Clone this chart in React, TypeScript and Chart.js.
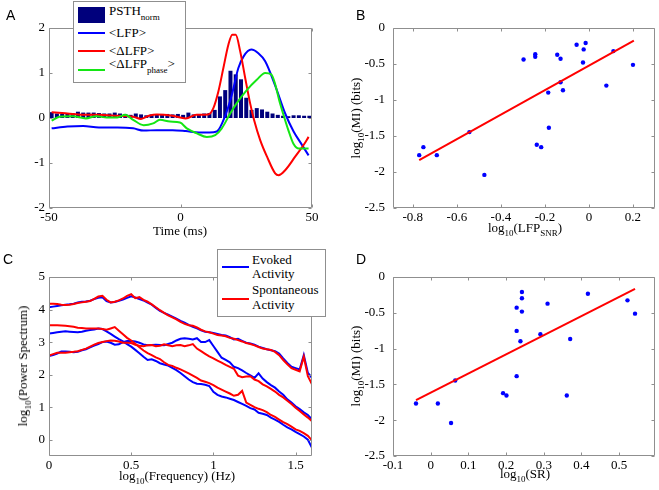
import React, { useEffect, useRef } from 'react';
import { Chart, registerables } from 'chart.js';

Chart.register(...registerables);

// ---------------- Panel A data ----------------
const PSTH_T = [-49, -47, -45, -43, -41, -39, -37, -35, -33, -31, -29, -27, -25, -23, -21, -19, -17, -15, -13, -11,
  -9, -7, -5, -3, -1, 1, 3, 5, 7, 9, 11, 13, 15, 17, 19, 21, 23, 25, 27, 29, 31, 33, 35, 37, 39, 41, 43, 45, 47, 49];
const PSTH_V = [0.13, 0.1, 0.09, 0.1, 0.11, 0.14, 0.12, 0.12, 0.12, 0.11, 0.1, 0.1, 0.12, 0.1, 0.09, 0.07, 0.1, 0.08, 0.06, 0.08,
  0.08, 0.09, 0.09, 0.08, 0.09, 0.07, 0.12, 0.08, 0.09, 0.1, 0.11, 0.18, 0.48, 0.62, 1.05, 0.97, 0.86, 0.45, 0.18, 0.22,
  0.19, 0.14, 0.1, 0.07, 0.05, 0.04, 0.06, 0.06, 0.05, 0.05];
const LFP_T = [-49, -43, -37, -31, -24, -18, -14, -9, -3, 2, 7, 11, 13.8, 17, 19.5, 22, 24, 26.9, 29.6, 32.2, 36, 39.8, 43, 46, 48.7];
const LFP_V = [-0.23, -0.19, -0.18, -0.21, -0.21, -0.23, -0.28, -0.27, -0.27, -0.29, -0.32, -0.32, -0.3, 0.05, 0.51, 1.11, 1.37, 1.52, 1.44, 1.26, 0.72, 0.1, -0.3, -0.58, -0.83];
const DLFP_T = [-49, -43, -37, -31, -24, -18, -15, -12, -9, -3, 2, 6, 10.6, 12.5, 14.4, 16.3, 18.2, 19.7, 21, 22.7, 24.6, 26.5, 28, 30.3, 32.9, 36, 37.3, 39.8, 43.6, 46.8, 48.7];
const DLFP_V = [0.13, 0.1, 0.07, 0.07, 0.05, 0.03, -0.02, 0.05, 0.08, 0.05, -0.01, 0.07, 0.08, 0.22, 0.59, 1.11, 1.63, 1.85, 1.85, 1.48, 0.89, 0.32, -0.05, -0.49, -0.86, -1.23, -1.27, -1.16, -0.86, -0.6, -0.42];
const PHASE_T = [-49, -46, -41, -36, -32, -28, -24, -21, -18, -14, -10.4, -7.8, -4, -0.2, 2.4, 6.2, 10, 13.2, 15.7, 18.9, 21.4, 25.2, 29, 32.2, 34.5, 36, 37.5, 39, 41, 43, 45, 48.7];
const PHASE_V = [-0.06, 0.03, 0.04, -0.01, 0.04, 0.01, 0.01, 0.07, -0.04, -0.16, -0.12, -0.04, -0.08, -0.1, -0.23, -0.34, -0.42, -0.38, -0.23, 0.1, 0.33, 0.62, 0.85, 1.0, 0.97, 0.75, 0.4, 0.1, -0.27, -0.58, -0.68, -0.68];
const A_XTICKS = [-50, 0, 50];
const A_YTICKS = [-2, -1, 0, 1, 2];

// ---------------- Panel B data ----------------
const SNR_X = [-0.771, -0.752, -0.691, -0.543, -0.475, -0.297, -0.244, -0.244, -0.237, -0.217, -0.185, -0.182, -0.144, -0.129, -0.129, -0.118, -0.056, -0.024, -0.015, -0.027, 0.079, 0.111, 0.2];
const SNR_MI = [-1.766, -1.655, -1.766, -1.446, -2.04, -0.437, -0.363, -0.4, -1.622, -1.655, -0.897, -1.385, -0.372, -0.428, -0.753, -0.865, -0.233, -0.297, -0.209, -0.479, -0.8, -0.321, -0.512];
const FITB_X = [-0.771, 0.204];
const FITB_Y = [-1.836, -0.175];
const B_XTICKS = [-0.8, -0.6, -0.4, -0.2, 0, 0.2];
const MI_TICKS = [-2.5, -2, -1.5, -1, -0.5, 0];

// ---------------- Panel C data ----------------
const FREQ_X = [0, 0.025, 0.05, 0.075, 0.1, 0.125, 0.15, 0.175, 0.2, 0.225, 0.25, 0.275, 0.3, 0.325, 0.35, 0.375, 0.4, 0.425, 0.45, 0.475,
  0.5, 0.525, 0.55, 0.575, 0.6, 0.625, 0.65, 0.675, 0.7, 0.725, 0.75, 0.775, 0.8, 0.825, 0.85, 0.875, 0.9, 0.925, 0.95, 0.975,
  1, 1.025, 1.05, 1.075, 1.1, 1.125, 1.15, 1.175, 1.2, 1.225, 1.25, 1.275, 1.3, 1.325, 1.35, 1.375, 1.4, 1.425, 1.45, 1.475,
  1.5, 1.525, 1.55, 1.575, 1.6];
const EVOKED_HI = [4.07, 4.09, 4.11, 4.13, 4.15, 4.16, 4.18, 4.22, 4.24, 4.25, 4.27, 4.32, 4.36, 4.38, 4.26, 4.22, 4.23, 4.27, 4.31, 4.36,
  4.41, 4.37, 4.32, 4.28, 4.21, 4.15, 4.05, 3.96, 3.9, 3.84, 3.78, 3.72, 3.65, 3.6, 3.53, 3.47, 3.42, 3.36, 3.32, 3.3,
  3.28, 3.25, 3.22, 3.2, 3.15, 3.08, 3.1, 3.04, 2.98, 2.96, 2.92, 2.86, 2.82, 2.78, 2.75, 2.72, 2.65, 2.5, 2.36, 2.24,
  2.2, 2.16, 2.6, 2.05, 1.9];
const SPONT_HI = [4.18, 4.18, 4.17, 4.15, 4.14, 4.15, 4.17, 4.2, 4.22, 4.24, 4.26, 4.33, 4.4, 4.42, 4.3, 4.22, 4.24, 4.28, 4.34, 4.42,
  4.47, 4.35, 4.38, 4.3, 4.24, 4.16, 4.07, 3.98, 3.9, 3.82, 3.76, 3.7, 3.62, 3.56, 3.52, 3.5, 3.45, 3.38, 3.33, 3.3,
  3.26, 3.22, 3.2, 3.18, 3.13, 3.1, 3.06, 3.02, 2.97, 2.94, 2.9, 2.85, 2.8, 2.78, 2.76, 2.7, 2.6, 2.45, 2.32, 2.2,
  2.15, 2.1, 2.55, 1.95, 1.7];
const EVOKED_MID = [2.57, 2.6, 2.65, 2.71, 2.71, 2.7, 2.69, 2.7, 2.75, 2.78, 2.84, 2.89, 2.94, 3.0, 3.02, 2.98, 2.92, 2.93, 3.0, 3.03,
  3.03, 3.02, 2.98, 2.93, 2.9, 2.91, 2.92, 2.91, 2.9, 2.94, 2.98, 3.05, 3.1, 3.12, 3.1, 3.08, 3.12, 3.0, 3.0, 3.06,
  2.88, 2.7, 2.52, 2.45, 2.38, 2.24, 2.2, 2.13, 2.05, 1.98, 1.9, 2.04, 1.88, 1.77, 1.68, 1.6, 1.48, 1.38, 1.24, 1.14,
  1.03, 0.94, 0.84, 0.76, 0.62];
const SPONT_MID = [2.59, 2.63, 2.67, 2.67, 2.67, 2.69, 2.7, 2.72, 2.76, 2.8, 2.86, 2.92, 2.97, 3.0, 3.03, 3.05, 3.04, 3.02, 2.98, 2.98,
  2.97, 2.92, 2.89, 2.87, 2.9, 2.91, 2.87, 2.89, 2.93, 2.9, 2.87, 2.9, 2.91, 2.87, 2.9, 2.94, 2.8, 2.72, 2.64, 2.56,
  2.5, 2.43, 2.37, 2.3, 2.24, 2.18, 1.97, 1.92, 1.94, 1.95, 1.85, 1.8, 1.7, 1.64, 1.56, 1.48, 1.38, 1.3, 1.2, 1.1,
  0.98, 0.88, 0.78, 0.68, 0.57];
const EVOKED_LO = [3.26, 3.28, 3.3, 3.32, 3.33, 3.32, 3.31, 3.3, 3.32, 3.35, 3.37, 3.39, 3.42, 3.4, 3.33, 3.25, 3.17, 3.09, 3.02, 2.94,
  2.86, 2.76, 2.66, 2.55, 2.45, 2.47, 2.42, 2.35, 2.31, 2.28, 2.21, 2.14, 2.05, 1.95, 1.85, 1.77, 1.72, 1.71, 1.69, 1.65,
  1.47, 1.38, 1.33, 1.3, 1.26, 1.22, 1.16, 1.1, 1.04, 0.97, 0.93, 0.83, 0.8, 0.76, 0.68, 0.62, 0.55, 0.46, 0.38, 0.32,
  0.24, 0.17, 0.1, 0.0, -0.25];
const SPONT_LO = [3.52, 3.52, 3.52, 3.51, 3.5, 3.49, 3.47, 3.44, 3.43, 3.42, 3.42, 3.42, 3.42, 3.4, 3.38, 3.42, 3.46, 3.35, 3.24, 3.13,
  3.05, 2.95, 2.84, 2.74, 2.66, 2.6, 2.53, 2.48, 2.38, 2.3, 2.27, 2.21, 2.16, 2.1, 2.04, 1.97, 1.9, 1.82, 1.78, 1.74,
  1.68, 1.6, 1.54, 1.48, 1.42, 1.35, 1.38, 1.5, 1.14, 1.07, 1.0, 0.95, 0.91, 0.85, 0.76, 0.7, 0.62, 0.54, 0.48, 0.4,
  0.32, 0.27, 0.2, 0.12, -0.02];
const C_XTICKS = [0, 0.5, 1, 1.5];
const C_YTICKS = [0, 1, 2, 3, 4, 5];

// ---------------- Panel D data ----------------
const SR_X = [-0.039, 0.019, 0.054, 0.065, 0.192, 0.201, 0.228, 0.228, 0.228, 0.238, 0.242, 0.242, 0.242, 0.291, 0.31, 0.37, 0.361, 0.417, 0.522, 0.542];
const SR_MI = [-1.766, -1.766, -2.04, -1.445, -1.622, -1.654, -1.385, -0.753, -0.428, -0.897, -0.209, -0.297, -0.483, -0.8, -0.372, -0.865, -1.655, -0.233, -0.326, -0.512];
const FITD_X = [-0.039, 0.542];
const FITD_Y = [-1.72, -0.167];
const D_XTICKS = [-0.1, 0, 0.1, 0.2, 0.3, 0.4, 0.5];

// ---------------- styling ----------------
const NAVY = '#00007c';
const BLUE = '#0000ff';
const RED = '#ff0000';
const GREEN = '#14e614';
const FRAME = '#8f8f8f';
const SERIF = '"Liberation Serif", "Times New Roman", serif';
const TICK_FONT = { family: SERIF, size: 13 };
const TICK_LEN = 3;

type Geom = { W: number; H: number; l: number; t: number; r: number; b: number };
const GA: Geom = { W: 330, H: 245, l: 49, t: 28, r: 312, b: 208 };
const GB: Geom = { W: 329, H: 245, l: 63, t: 28, r: 326, b: 208 };
const GC: Geom = { W: 330, H: 245, l: 49, t: 32, r: 312, b: 211 };
const GD: Geom = { W: 329, H: 245, l: 63, t: 32, r: 326, b: 211 };

const pts = (xs: number[], ys: number[]) => xs.map((x, i) => ({ x, y: ys[i] }));

const framePlugin = {
  id: 'matlabFrame',
  afterDatasetsDraw(chart: any) {
    const { ctx, chartArea: a } = chart;
    const xs = chart.scales.x;
    const ys = chart.scales.y;
    const L = Math.round(a.left) + 0.5;
    const R = Math.round(a.right) - 0.5;
    const T = Math.round(a.top) + 0.5;
    const B = Math.round(a.bottom) - 0.5;
    ctx.save();
    ctx.strokeStyle = FRAME;
    ctx.lineWidth = 1;
    ctx.beginPath();
    ctx.rect(L, T, R - L, B - T);
    for (const t of xs.ticks) {
      const p = Math.round(xs.getPixelForValue(t.value)) + 0.5;
      ctx.moveTo(p, B); ctx.lineTo(p, B - TICK_LEN);
      ctx.moveTo(p, T); ctx.lineTo(p, T + TICK_LEN);
    }
    for (const t of ys.ticks) {
      const p = Math.round(ys.getPixelForValue(t.value)) + 0.5;
      ctx.moveTo(L, p); ctx.lineTo(L + TICK_LEN, p);
      ctx.moveTo(R, p); ctx.lineTo(R - TICK_LEN, p);
    }
    ctx.stroke();
    ctx.restore();
  },
};

function makeOptions(g: Geom, xr: number[], yr: number[], xt: number[], yt: number[], ypad: number) {
  return {
    responsive: false,
    maintainAspectRatio: false,
    animation: false,
    events: [],
    layout: { padding: { left: 0, top: g.t, right: g.W - g.r, bottom: 0 } },
    plugins: { legend: { display: false }, tooltip: { enabled: false }, title: { display: false } },
    scales: {
      x: {
        type: 'linear', position: 'bottom', min: xr[0], max: xr[1], offset: false,
        grid: { display: false, drawTicks: false, offset: false },
        border: { display: false },
        title: { display: false },
        ticks: { font: TICK_FONT, color: '#000', padding: 2, autoSkip: false, maxRotation: 0, minRotation: 0, callback: (v: number) => String(v) },
        afterBuildTicks: (s: any) => { s.ticks = xt.map((v) => ({ value: v })); },
        afterFit: (s: any) => { s.height = g.H - g.b; },
      },
      y: {
        type: 'linear', position: 'left', min: yr[0], max: yr[1],
        grid: { display: false, drawTicks: false },
        border: { display: false },
        title: { display: false },
        ticks: { font: TICK_FONT, color: '#000', padding: ypad, autoSkip: false, callback: (v: number) => String(v) },
        afterBuildTicks: (s: any) => { s.ticks = yt.map((v) => ({ value: v })); },
        afterFit: (s: any) => { s.width = g.l; },
      },
    },
  };
}

function configA(): any {
  const line = (xs: number[], ys: number[], color: string, order: number) => ({
    type: 'line', data: pts(xs, ys), borderColor: color, backgroundColor: color, borderWidth: 2,
    pointRadius: 0, cubicInterpolationMode: 'monotone', fill: false, order,
  });
  return {
    type: 'bar',
    data: {
      datasets: [
        { type: 'bar', data: pts(PSTH_T, PSTH_V), backgroundColor: NAVY, borderColor: NAVY, borderWidth: 0, barPercentage: 0.76, categoryPercentage: 1, order: 10 },
        line(LFP_T, LFP_V, BLUE, 3),
        line(DLFP_T, DLFP_V, RED, 2),
        line(PHASE_T, PHASE_V, GREEN, 1),
      ],
    },
    options: makeOptions(GA, [-50, 50], [-2, 2], A_XTICKS, A_YTICKS, 4),
    plugins: [framePlugin],
  };
}

function scatterConfig(g: Geom, xs: number[], ys: number[], fx: number[], fy: number[], xr: number[], xt: number[]): any {
  return {
    type: 'scatter',
    data: {
      datasets: [
        { type: 'scatter', data: pts(xs, ys), backgroundColor: BLUE, borderWidth: 0, pointRadius: 2.2, order: 2 },
        { type: 'line', data: pts(fx, fy), borderColor: RED, borderWidth: 2, pointRadius: 0, showLine: true, fill: false, order: 1 },
      ],
    },
    options: makeOptions(g, xr, [-2.5, 0], xt, MI_TICKS, 8),
    plugins: [framePlugin],
  };
}

function configC(): any {
  const line = (ys: number[], color: string, order: number) => ({
    data: pts(FREQ_X, ys), borderColor: color, backgroundColor: color, borderWidth: 2, pointRadius: 0,
    tension: 0, fill: false, order,
  });
  return {
    type: 'line',
    data: {
      datasets: [
        line(EVOKED_HI, BLUE, 2), line(EVOKED_MID, BLUE, 2), line(EVOKED_LO, BLUE, 2),
        line(SPONT_HI, RED, 1), line(SPONT_MID, RED, 1), line(SPONT_LO, RED, 1),
      ],
    },
    options: makeOptions(GC, [0, 1.6], [-0.5, 5], C_XTICKS, C_YTICKS, 4),
    plugins: [framePlugin],
  };
}

const Sub = ({ children, shift = 4 }: { children: React.ReactNode; shift?: number }) => (
  <span style={{ fontSize: 9, position: 'relative', top: shift }}>{children}</span>
);

const textBase: React.CSSProperties = {
  position: 'absolute', whiteSpace: 'nowrap', fontFamily: SERIF, fontSize: 13, lineHeight: '13px', color: '#000',
};

const HText = ({ x, y, center, children }: { x: number; y: number; center?: boolean; children: React.ReactNode }) => (
  <div style={{ ...textBase, left: x, top: y, transform: center ? 'translateX(-50%)' : undefined }}>{children}</div>
);

const VText = ({ x, y, children }: { x: number; y: number; children: React.ReactNode }) => (
  <div style={{ ...textBase, left: x, top: y, transformOrigin: '0 0', transform: 'rotate(-90deg) translateX(-50%)' }}>{children}</div>
);

const Letter = ({ x, y, children }: { x: number; y: number; children: React.ReactNode }) => (
  <div style={{ position: 'absolute', left: x, top: y, fontFamily: '"Liberation Sans", Arial, sans-serif', fontSize: 14, lineHeight: '14px', color: '#000' }}>{children}</div>
);

const Box = ({ x, y, w, h, bg, border }: { x: number; y: number; w: number; h: number; bg: string; border?: string }) => (
  <div style={{ position: 'absolute', left: x, top: y, width: w, height: h, background: bg, border, boxSizing: 'border-box' }} />
);

export default function App() {
  const refA = useRef<HTMLCanvasElement>(null);
  const refB = useRef<HTMLCanvasElement>(null);
  const refC = useRef<HTMLCanvasElement>(null);
  const refD = useRef<HTMLCanvasElement>(null);

  useEffect(() => {
    const charts = [
      new Chart(refA.current as HTMLCanvasElement, configA()),
      new Chart(refB.current as HTMLCanvasElement, scatterConfig(GB, SNR_X, SNR_MI, FITB_X, FITB_Y, [-0.89, 0.3], B_XTICKS)),
      new Chart(refC.current as HTMLCanvasElement, configC()),
      new Chart(refD.current as HTMLCanvasElement, scatterConfig(GD, SR_X, SR_MI, FITD_X, FITD_Y, [-0.1, 0.595], D_XTICKS)),
    ];
    return () => charts.forEach((c) => c.destroy());
  }, []);

  const cv = (x: number, y: number): React.CSSProperties => ({ position: 'absolute', left: x, top: y });

  return (
    <div style={{ position: 'fixed', left: 0, top: 0, width: 659, height: 490, background: '#fff', overflow: 'hidden' }}>
      <canvas ref={refA} width={GA.W} height={GA.H} style={cv(0, 0)} />
      <canvas ref={refB} width={GB.W} height={GB.H} style={cv(330, 0)} />
      <canvas ref={refC} width={GC.W} height={GC.H} style={cv(0, 245)} />
      <canvas ref={refD} width={GD.W} height={GD.H} style={cv(330, 245)} />

      {/* panel letters */}
      <Letter x={6} y={8}>A</Letter>
      <Letter x={356} y={8}>B</Letter>
      <Letter x={3} y={252}>C</Letter>
      <Letter x={356} y={252}>D</Letter>

      {/* axis titles */}
      <HText x={180} y={224} center>Time (ms)</HText>
      <HText x={525} y={221} center>log<Sub>10</Sub>(LFP<Sub>SNR</Sub>)</HText>
      <HText x={177} y={469} center>log<Sub>10</Sub>(Frequency) (Hz)</HText>
      <HText x={525} y={467} center>log<Sub>10</Sub>(SR)</HText>
      <VText x={349} y={118}>log<Sub>10</Sub>(MI) (bits)</VText>
      <VText x={16} y={366}>log<Sub>10</Sub>(Power Spectrum)</VText>
      <VText x={349} y={366}>log<Sub>10</Sub>(MI) (bits)</VText>

      {/* legend A */}
      <Box x={73} y={1} w={113} h={82} bg="#fff" border={`1px solid ${FRAME}`} />
      <Box x={78} y={7} w={27} h={16} bg={NAVY} />
      <HText x={109} y={4}>PSTH<Sub shift={5}>norm</Sub></HText>
      <Box x={78} y={32} w={27} h={2} bg={BLUE} />
      <HText x={109} y={26}>{'<LFP>'}</HText>
      <Box x={78} y={50} w={27} h={2} bg={RED} />
      <HText x={109} y={44}>{'<ΔLFP>'}</HText>
      <Box x={78} y={69} w={27} h={2} bg={GREEN} />
      <HText x={109} y={57}>{'<ΔLFP'}<Sub shift={5}>phase</Sub>{'>'}</HText>

      {/* legend C */}
      <Box x={217} y={249} w={109} h={68} bg="#fff" border={`1px solid ${FRAME}`} />
      <Box x={222} y={266} w={27} h={2} bg={BLUE} />
      <div style={{ ...textBase, left: 252, top: 252.5, lineHeight: '14.5px' }}>Evoked<br />Activity</div>
      <Box x={222} y={298} w={27} h={2} bg={RED} />
      <div style={{ ...textBase, left: 252, top: 283, lineHeight: '14.5px' }}>Spontaneous<br />Activity</div>
    </div>
  );
}
